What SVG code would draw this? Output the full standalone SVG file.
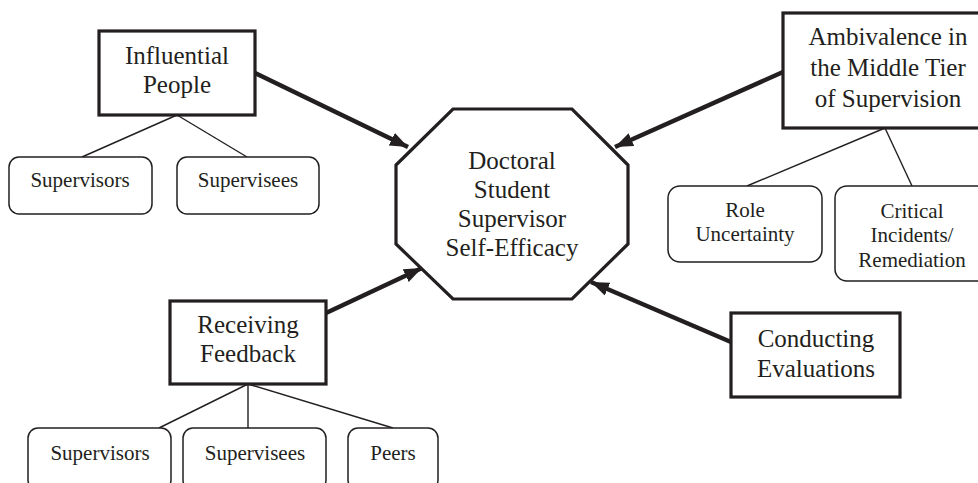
<svg xmlns="http://www.w3.org/2000/svg" width="978" height="483" viewBox="0 0 978 483">
<style>
text{font-family:'Liberation Serif','DejaVu Serif',serif;fill:#231f20;text-anchor:middle}
.big{font-size:25px}
.small{font-size:21px}
.main{fill:#fff;stroke:#231f20;stroke-width:3.2}
.sub{fill:#fff;stroke:#231f20;stroke-width:1.5}
.thin{stroke:#231f20;stroke-width:1.4;fill:none}
.arrow{stroke:#231f20;stroke-width:4.5;fill:none;marker-end:url(#ah)}
</style>
<defs>
<marker id="ah" markerUnits="userSpaceOnUse" markerWidth="20" markerHeight="16" refX="18" refY="7" orient="auto">
<path d="M0,0 L18,7 L0,14 Z" fill="#231f20"/>
</marker>
</defs>
<rect width="978" height="483" fill="#fff"/>
<g id="connectors">
<line class="thin" x1="177" y1="115" x2="82" y2="157"/>
<line class="thin" x1="177" y1="115" x2="247" y2="157"/>
<line class="thin" x1="885" y1="128" x2="747" y2="186"/>
<line class="thin" x1="885" y1="128" x2="912" y2="186"/>
<line class="thin" x1="248" y1="384" x2="159" y2="428"/>
<line class="thin" x1="248" y1="384" x2="248" y2="428"/>
<line class="thin" x1="248" y1="384" x2="393" y2="428"/>
<line class="arrow" x1="255" y1="73" x2="408" y2="147"/>
<line class="arrow" x1="783" y1="72" x2="615" y2="147"/>
<line class="arrow" x1="326" y1="313" x2="422" y2="268"/>
<line class="arrow" x1="731" y1="342" x2="591" y2="282"/>
</g>
<g id="center">
<polygon class="main" points="453,109 572,109 628,165 628,244 572,299 453,299 396,244 396,165"/>
<text class="big" x="512" y="169" font-family="Liberation Serif">Doctoral</text>
<text class="big" x="512" y="198" font-family="Liberation Serif">Student</text>
<text class="big" x="512" y="227" font-family="Liberation Serif">Supervisor</text>
<text class="big" x="512" y="256" font-family="Liberation Serif">Self-Efficacy</text>
</g>
<g id="influential">
<rect class="main" x="99" y="31" width="156" height="84"/>
<text class="big" x="177" y="64">Influential</text>
<text class="big" x="177" y="93">People</text>
</g>
<g id="ip-supervisors">
<rect class="sub" x="9" y="157" width="143" height="57" rx="10"/>
<text class="small" x="80" y="187">Supervisors</text>
</g>
<g id="ip-supervisees">
<rect class="sub" x="177" y="157" width="142" height="57" rx="10"/>
<text class="small" x="248" y="187">Supervisees</text>
</g>
<g id="ambivalence">
<rect class="main" x="783" y="13" width="212" height="115"/>
<text class="big" x="888" y="45">Ambivalence in</text>
<text class="big" x="888" y="76">the Middle Tier</text>
<text class="big" x="888" y="107">of Supervision</text>
</g>
<g id="role">
<rect class="sub" x="668" y="186" width="154" height="76" rx="12"/>
<text class="small" x="745" y="217">Role</text>
<text class="small" x="745" y="241">Uncertainty</text>
</g>
<g id="critical">
<rect class="sub" x="835" y="186" width="160" height="95" rx="12"/>
<text class="small" x="912" y="218">Critical</text>
<text class="small" x="912" y="242">Incidents/</text>
<text class="small" x="912" y="267">Remediation</text>
</g>
<g id="conducting">
<rect class="main" x="731" y="313" width="169" height="84"/>
<text class="big" x="816" y="347">Conducting</text>
<text class="big" x="816" y="377">Evaluations</text>
</g>
<g id="receiving">
<rect class="main" x="170" y="301" width="156" height="83"/>
<text class="big" x="248" y="333">Receiving</text>
<text class="big" x="248" y="362">Feedback</text>
</g>
<g id="rf-supervisors">
<rect class="sub" x="28" y="428" width="143" height="62" rx="10"/>
<text class="small" x="100" y="460">Supervisors</text>
</g>
<g id="rf-supervisees">
<rect class="sub" x="183" y="428" width="143" height="62" rx="10"/>
<text class="small" x="255" y="460">Supervisees</text>
</g>
<g id="rf-peers">
<rect class="sub" x="348" y="428" width="90" height="62" rx="10"/>
<text class="small" x="393" y="460">Peers</text>
</g>
</svg>
